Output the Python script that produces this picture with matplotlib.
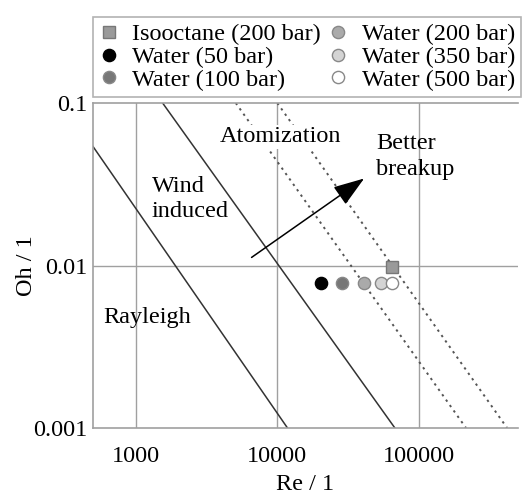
import matplotlib
matplotlib.use("Agg")
import matplotlib.pyplot as plt

plt.rcParams['font.family'] = ['Liberation Serif', 'DejaVu Serif']
plt.rcParams['font.size'] = 17.5

# regime boundaries (Re, Oh end points)
rayleigh_re = [500, 11800]
rayleigh_oh = [0.054, 0.001]
wind_re = [1550, 67600]
wind_oh = [0.1, 0.001]
atom1_re = [5090, 214800]
atom1_oh = [0.1, 0.001]
atom2_re = [10000, 419000]
atom2_oh = [0.1, 0.001]

# measured operating points
water_re = [20500, 28800, 41200, 54300, 65000]
water_oh = [0.0078, 0.0078, 0.0078, 0.0078, 0.0078]
water_labels = ['Water (50 bar)', 'Water (100 bar)', 'Water (200 bar)',
                'Water (350 bar)', 'Water (500 bar)']
water_colors = ['#000000', '#777777', '#aaaaaa', '#d4d4d4', '#ffffff']
iso_re = [65000]
iso_oh = [0.0098]

fig = plt.figure(figsize=(5.22, 4.97), dpi=100)
ax = fig.add_axes([93/522, 1-428/497, 425/522, 325/497])
ax.set_xscale('log')
ax.set_yscale('log')
ax.set_xlim(500, 500000)
ax.set_ylim(0.001, 0.1)

grey = '#a0a0a0'
for x in [1000, 10000, 100000]:
    ax.axvline(x, color=grey, lw=1.0, zorder=0)
ax.axhline(0.01, color=grey, lw=1.0, zorder=0)

ax.plot(rayleigh_re, rayleigh_oh, color='#333333', lw=1.1, zorder=2)
ax.plot(wind_re, wind_oh, color='#333333', lw=1.1, zorder=2)
ax.plot(atom1_re, atom1_oh, color='#555555', lw=1.4, ls=(0, (1.2, 2.2)), zorder=2)
ax.plot(atom2_re, atom2_oh, color='#555555', lw=1.4, ls=(0, (1.2, 2.2)), zorder=2)

h_iso = ax.plot(iso_re, iso_oh, ls='none', marker='s', ms=8, mfc='#9a9a9a',
                mec='#777777', mew=1, zorder=4, label='Isooctane (200 bar)')[0]
h_w = []
for r, o, c, lab in zip(water_re, water_oh, water_colors, water_labels):
    ec = '#000000' if c == '#000000' else '#888888'
    h = ax.plot([r], [o], ls='none', marker='o', ms=8.8, mfc=c, mec=ec,
                mew=1, zorder=4, label=lab)[0]
    h_w.append(h)

ax.annotate('', xy=(42560, 0.0351), xytext=(6340, 0.01096),
            arrowprops=dict(arrowstyle='-|>,head_length=1.1,head_width=0.38',
                            color='black', lw=1.1), zorder=5)

ax.text(10500, 0.0618, 'Atomization', ha='center', va='center',
        bbox=dict(facecolor='white', edgecolor='none', pad=1), zorder=3)
ax.text(50000, 0.0466, 'Better\nbreakup', ha='left', va='center',
        linespacing=1.3, zorder=3)
ax.text(1297, 0.0256, 'Wind\ninduced', ha='left', va='center',
        linespacing=1.25, zorder=3)
ax.text(594, 0.00482, 'Rayleigh', ha='left', va='center', zorder=3)

ax.set_xticks([1000, 10000, 100000])
ax.set_xticklabels(['1000', '10000', '100000'])
ax.set_yticks([0.001, 0.01, 0.1])
ax.set_yticklabels(['0.001', '0.01', '0.1'])
ax.minorticks_off()
ax.tick_params(axis='x', length=0, pad=13)
ax.tick_params(axis='y', length=0, pad=4)
ax.set_xlabel('Re / 1', labelpad=5)
ax.set_ylabel('Oh / 1', labelpad=-3)

for s in ['left', 'bottom', 'top']:
    ax.spines[s].set_color(grey)
    ax.spines[s].set_linewidth(1.2)
ax.spines['right'].set_visible(False)

handles = [h_iso] + h_w
leg = fig.legend(handles=handles, ncol=2, loc='lower left',
                 bbox_to_anchor=(93/522, 1-97/497, 428/522, 89/497),
                 mode='expand', frameon=True,
                 fancybox=False, edgecolor=grey, handlelength=0.8,
                 handletextpad=0.55, columnspacing=0.5, labelspacing=0.03,
                 borderpad=0.25, borderaxespad=0)
leg.get_frame().set_linewidth(1.2)

fig.savefig('out.png', dpi=100)
